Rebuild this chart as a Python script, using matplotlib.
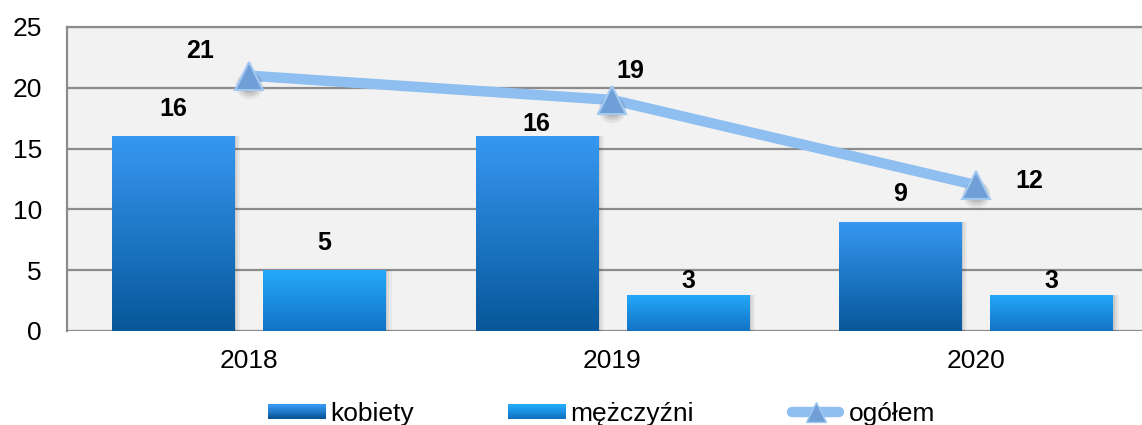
import numpy as np
import matplotlib
matplotlib.use("Agg")
import matplotlib.pyplot as plt
import matplotlib.transforms as mtransforms
from matplotlib.patches import Rectangle
from matplotlib.legend_handler import HandlerBase
from matplotlib.colors import LinearSegmentedColormap

plt.rcParams['font.family'] = ['Liberation Sans', 'DejaVu Sans']

years = ["2018", "2019", "2020"]
kobiety = [16, 16, 9]
mezczyzni = [5, 3, 3]
ogolem = [21, 19, 12]
series_names = ["kobiety", "mężczyźni", "ogółem"]

# top -> bottom colours of the bar gradients
grad_k = ("#3798f2", "#07579a")
grad_m = ("#24a9fb", "#1273c4")
line_col = "#8fbff0"
grid_col = "#8c8c8c"

fig = plt.figure(figsize=(11.42, 4.25), dpi=100)
ax = fig.add_axes([0.0587, 0.2212, 0.955, 0.7153])
ax.set_facecolor("#f2f2f2")

x = np.arange(len(years))
bw = 0.336
off = 0.208


def gradient_bars(xs, vals, colors, z=3):
    cmap = LinearSegmentedColormap.from_list("g", [colors[1], colors[0]])
    # soft shadow: a few fading copies behind each bar
    for k, a in [(6, 0.04), (4, 0.06), (2, 0.08)]:
        ax.bar(np.asarray(xs) + k / 363.0, vals, bw, color="black", alpha=a, zorder=z - 0.5, linewidth=0)
    bars = ax.bar(xs, vals, bw, color=colors[1], zorder=z, linewidth=0)
    for b in bars:
        x0, w, h = b.get_x(), b.get_width(), b.get_height()
        g = np.linspace(0, 1, 256).reshape(-1, 1)
        im = ax.imshow(g, extent=[x0, x0 + w, 0, h], origin="lower", cmap=cmap,
                       aspect="auto", zorder=z + 0.1, interpolation="bicubic")
        im.set_clip_path(b)
    return bars


bk = gradient_bars(x - off, kobiety, grad_k)
bm = gradient_bars(x + off, mezczyzni, grad_m)

ax.plot(x, ogolem, color=line_col, lw=7.5, zorder=5, solid_capstyle="butt")

# blurred shadow under the triangles
for dy, ms, a in [(-9, 22, 0.06), (-8, 19, 0.08), (-7, 16, 0.1), (-6, 12, 0.12)]:
    tr = mtransforms.offset_copy(ax.transData, fig=fig, x=0, y=dy, units="dots")
    ax.plot(x, ogolem, ls="none", marker="o", ms=ms * 0.9, mfc="black", mec="none", alpha=a,
            zorder=5.5, transform=tr)
ax.plot(x, ogolem, ls="none", marker="^", ms=20, mfc="#6f9fd6", mec="#a3c9f2", mew=1.5, zorder=6)

# value labels (pixel offsets from the value they state)
lab = dict(ha="center", va="center", fontsize=18, fontweight="bold", textcoords="offset pixels", zorder=8)
for xi, v, dy in zip(x - off, kobiety, [27, 12, 28]):
    ax.annotate(str(v), (xi, v), xytext=(0, dy), **lab)
for xi, v, dy in zip(x + off, mezczyzni, [27, 14, 14]):
    ax.annotate(str(v), (xi, v), xytext=(0, dy), **lab)
for xi, v, (dx, dy) in zip(x, ogolem, [(-49, 25), (18, 29), (53, 4)]):
    ax.annotate(str(v), (xi, v), xytext=(dx, dy), **lab)

ax.set_xlim(-0.5, 2.5)
ax.set_ylim(0, 25)
ax.set_yticks(range(0, 26, 5))
ax.set_xticks(x)
ax.set_xticklabels(years)
ax.yaxis.grid(True, color=grid_col, lw=1.6, zorder=1)
ax.set_axisbelow(True)
ax.tick_params(axis="both", length=0, labelsize=19)
ax.tick_params(axis="y", pad=18)
ax.tick_params(axis="x", pad=13)
for s in ["right", "bottom"]:
    ax.spines[s].set_visible(False)
for s in ["left", "top"]:
    ax.spines[s].set_color(grid_col)
    ax.spines[s].set_linewidth(1.6)


class GradHandler(HandlerBase):
    def __init__(self, colors):
        super().__init__()
        self.colors = colors

    def create_artists(self, legend, orig, xd, yd, width, height, fontsize, trans):
        cmap = LinearSegmentedColormap.from_list("g", [self.colors[1], self.colors[0]])
        n = 12
        h = height * 0.75
        y0 = yd + (height - h) / 2
        arts = []
        for i in range(n):
            r = Rectangle((xd, y0 + h * i / n), width, h / n + 0.3, color=cmap(i / (n - 1)),
                          lw=0, transform=trans)
            arts.append(r)
        return arts


class LineHandler(HandlerBase):
    def create_artists(self, legend, orig, xd, yd, width, height, fontsize, trans):
        ym = yd + height / 2
        l = plt.Line2D([xd + 4, xd + width - 4], [ym, ym], color=line_col, lw=7.5,
                       solid_capstyle="round", transform=trans)
        m = plt.Line2D([xd + width / 2], [ym], marker="^", ms=15, mfc="#6f9fd6", mec="#a3c9f2",
                       ls="none", transform=trans)
        return [l, m]


hk, hm, ho = Rectangle((0, 0), 1, 1), Rectangle((0, 0), 1, 1), plt.Line2D([], [])
fig.legend([hk, hm, ho], series_names, loc="center", bbox_to_anchor=(0.527, 0.026), ncol=3,
           frameon=False, fontsize=19, handlelength=2.2, handletextpad=0.15, columnspacing=3.55,
           handler_map={hk: GradHandler(grad_k), hm: GradHandler(grad_m), ho: LineHandler()})

fig.savefig("out.png", dpi=100)
